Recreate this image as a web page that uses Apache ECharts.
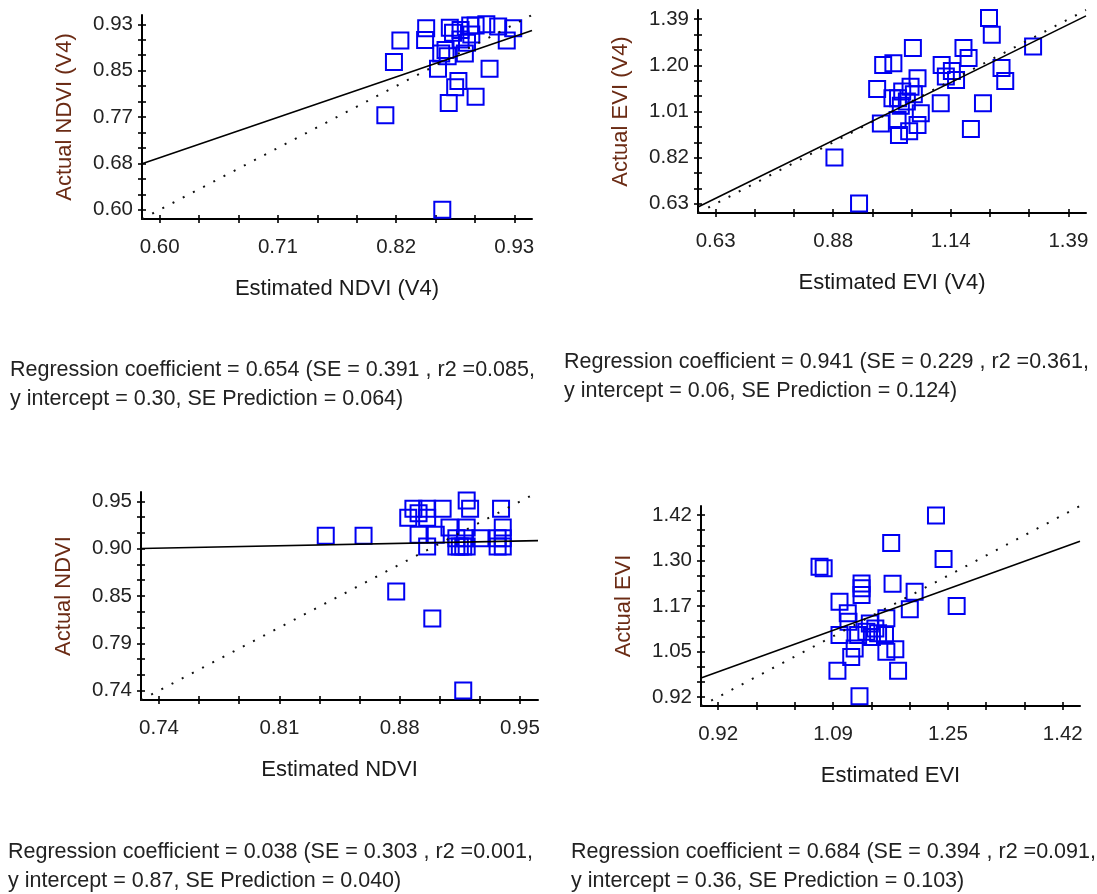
<!DOCTYPE html>
<html>
<head>
<meta charset="utf-8">
<script src="https://cdn.jsdelivr.net/npm/echarts@6/dist/echarts.min.js"></script>
<style>
  html, body { margin: 0; padding: 0; background: #fff; }
  #chart { width: 1097px; height: 894px; }
</style>
</head>
<body>
<div id="chart"></div>
<script>
// panel 1: NDVI (V4)
const p1Est = [0.824, 0.818, 0.810, 0.863, 0.848, 0.847, 0.870, 0.862, 0.859, 0.868, 0.878, 0.875, 0.869, 0.894,
  0.907, 0.884, 0.880, 0.880, 0.889, 0.894, 0.890, 0.904, 0.915, 0.929, 0.923, 0.886, 0.873, 0.866];
const p1Act = [0.901, 0.863, 0.768, 0.600, 0.923, 0.902, 0.924, 0.878, 0.851, 0.873, 0.829, 0.818, 0.790, 0.801,
  0.851, 0.878, 0.903, 0.920, 0.928, 0.928, 0.912, 0.930, 0.926, 0.923, 0.901, 0.897, 0.915, 0.884];
const p1Range = [0.60, 0.93];
const p1XLabels = ['0.60', '0.71', '0.82', '0.93'];
const p1YLabels = ['0.60', '0.68', '0.77', '0.85', '0.93'];
const p1Fit = [0.654, 0.30];

// panel 2: EVI (V4)
const p2Est = [1.219, 1.225, 1.314, 1.055, 1.164, 1.175, 0.991, 1.013, 1.117, 1.139, 1.126, 1.148, 1.246, 1.254,
  1.065, 0.978, 1.050, 1.057, 1.023, 1.042, 1.029, 1.115, 1.206, 1.072, 0.986, 1.022, 1.065, 1.025, 1.047, 1.180,
  0.886, 0.939, 1.011, 1.032];
const p2Act = [1.395, 1.326, 1.278, 1.271, 1.271, 1.230, 1.202, 1.209, 1.202, 1.177, 1.154, 1.140, 1.189, 1.136,
  1.147, 1.103, 1.112, 1.081, 1.065, 1.051, 1.034, 1.044, 1.044, 1.003, 0.961, 0.975, 0.954, 0.913, 0.929, 0.938,
  0.821, 0.631, 1.065, 1.092];
const p2Range = [0.63, 1.39];
const p2XLabels = ['0.63', '0.88', '1.14', '1.39'];
const p2YLabels = ['0.63', '0.82', '1.01', '1.20', '1.39'];
const p2Fit = [0.941, 0.06];

// panel 3: NDVI
const p3Est = [0.837, 0.859, 0.878, 0.899, 0.917, 0.919, 0.921, 0.939, 0.888, 0.896, 0.905, 0.885, 0.896, 0.891,
  0.891, 0.901, 0.896, 0.909, 0.919, 0.940, 0.913, 0.915, 0.917, 0.919, 0.913, 0.918, 0.937, 0.940, 0.937, 0.940, 0.927];
const p3Act = [0.912, 0.912, 0.850, 0.820, 0.740, 0.951, 0.942, 0.942, 0.942, 0.942, 0.942, 0.932, 0.932, 0.937,
  0.913, 0.913, 0.900, 0.921, 0.921, 0.921, 0.900, 0.900, 0.900, 0.900, 0.909, 0.909, 0.900, 0.900, 0.909, 0.909, 0.909];
const p3Range = [0.74, 0.95];
const p3XLabels = ['0.74', '0.81', '0.88', '0.95'];
const p3YLabels = ['0.74', '0.79', '0.85', '0.90', '0.95'];
const p3Fit = [0.038, 0.87];

// panel 4: EVI
const p4Est = [1.236, 1.171, 1.247, 1.067, 1.073, 1.128, 1.128, 1.128, 1.173, 1.205, 1.198, 1.266, 1.096, 1.108,
  1.109, 1.096, 1.123, 1.140, 1.135, 1.148, 1.143, 1.164, 1.162, 1.113, 1.118, 1.164, 1.177, 1.093, 1.181, 1.125, 1.152];
const p4Act = [1.419, 1.343, 1.299, 1.278, 1.274, 1.232, 1.219, 1.200, 1.231, 1.209, 1.161, 1.170, 1.182, 1.150,
  1.127, 1.090, 1.090, 1.122, 1.099, 1.108, 1.085, 1.136, 1.090, 1.030, 1.053, 1.044, 1.051, 0.992, 0.992, 0.922, 1.095];
const p4Range = [0.92, 1.42];
const p4XLabels = ['0.92', '1.09', '1.25', '1.42'];
const p4YLabels = ['0.92', '1.05', '1.17', '1.30', '1.42'];
const p4Fit = [0.684, 0.36];

const xNames = ['Estimated NDVI (V4)', 'Estimated EVI (V4)', 'Estimated NDVI', 'Estimated EVI'];
const yNames = ['Actual NDVI (V4)', 'Actual EVI (V4)', 'Actual NDVI', 'Actual EVI'];
const notes = [
  'Regression coefficient = 0.654 (SE = 0.391 , r2 =0.085,\ny intercept = 0.30, SE Prediction = 0.064)',
  'Regression coefficient = 0.941 (SE = 0.229 , r2 =0.361,\ny intercept = 0.06, SE Prediction = 0.124)',
  'Regression coefficient = 0.038 (SE = 0.303 , r2 =0.001,\ny intercept = 0.87, SE Prediction = 0.040)',
  'Regression coefficient = 0.684 (SE = 0.394 , r2 =0.091,\ny intercept = 0.36, SE Prediction = 0.103)'
];

const panels = [
  { est: p1Est, act: p1Act, range: p1Range, xl: p1XLabels, yl: p1YLabels, fit: p1Fit },
  { est: p2Est, act: p2Act, range: p2Range, xl: p2XLabels, yl: p2YLabels, fit: p2Fit },
  { est: p3Est, act: p3Act, range: p3Range, xl: p3XLabels, yl: p3YLabels, fit: p3Fit },
  { est: p4Est, act: p4Act, range: p4Range, xl: p4XLabels, yl: p4YLabels, fit: p4Fit }
];

// plot boxes and note positions
const boxes = [
  { left: 142, top: 15, width: 390, height: 204 },
  { left: 698, top: 10, width: 388, height: 203 },
  { left: 141, top: 492, width: 397, height: 208 },
  { left: 701, top: 506, width: 379, height: 200 }
];
const noteAt = [[10, 356], [564, 348], [8, 838], [571, 838]];

const FONT = '"Liberation Sans", Arial, sans-serif';
const ink = '#000';

function steps(lo, hi, n) {
  const out = [];
  for (let i = 0; i <= n; i++) out.push(lo + (hi - lo) * i / n);
  return out;
}

const grid = [], xAxis = [], yAxis = [], series = [], graphic = [];

panels.forEach((p, i) => {
  const [lo, hi] = p.range;
  const pad = (hi - lo) * 0.05;
  const min = lo - pad, max = hi + pad;
  const xFmt = v => p.xl[Math.round((v - lo) / (hi - lo) * (p.xl.length - 1))];
  const yFmt = v => p.yl[Math.round((v - lo) / (hi - lo) * (p.yl.length - 1))];
  const xTicks = steps(lo, hi, (p.xl.length - 1) * 3);
  const yTicks = steps(lo, hi, (p.yl.length - 1) * 3);

  // main grid + overlay grid (same box) for ticks that cross the axis line
  grid.push(Object.assign({ containLabel: false, outerBoundsMode: 'none' }, boxes[i]));
  grid.push(Object.assign({ containLabel: false, outerBoundsMode: 'none' }, boxes[i]));

  xAxis.push({
    type: 'value', gridIndex: 2 * i, min, max,
    axisLine: { onZero: false, lineStyle: { color: ink, width: 2 } },
    axisTick: { show: true, length: 4, customValues: xTicks, lineStyle: { color: ink, width: 1.6 } },
    axisLabel: { customValues: steps(lo, hi, p.xl.length - 1), formatter: xFmt, color: '#222',
      fontFamily: FONT, fontSize: 20.5, margin: 18 },
    splitLine: { show: false },
    name: xNames[i], nameLocation: 'middle', nameGap: 59,
    nameTextStyle: { color: '#1a1a1a', fontFamily: FONT, fontSize: 22 }
  });
  xAxis.push({
    type: 'value', gridIndex: 2 * i + 1, min, max,
    axisLine: { show: false },
    axisTick: { show: true, inside: true, length: 4, customValues: xTicks, lineStyle: { color: ink, width: 1.6 } },
    axisLabel: { show: false }, splitLine: { show: false }
  });
  yAxis.push({
    type: 'value', gridIndex: 2 * i, min, max,
    axisLine: { onZero: false, lineStyle: { color: ink, width: 2 } },
    axisTick: { show: true, length: 4, customValues: yTicks, lineStyle: { color: ink, width: 1.6 } },
    axisLabel: { customValues: steps(lo, hi, p.yl.length - 1), formatter: yFmt, color: '#222',
      fontFamily: FONT, fontSize: 20.5, margin: 9 },
    splitLine: { show: false },
    name: yNames[i], nameLocation: 'middle', nameGap: 66,
    nameTextStyle: { color: '#6b2b14', fontFamily: FONT, fontSize: 22 }
  });
  yAxis.push({
    type: 'value', gridIndex: 2 * i + 1, min, max,
    axisLine: { show: false },
    axisTick: { show: true, inside: true, length: 4, customValues: yTicks, lineStyle: { color: ink, width: 1.6 } },
    axisLabel: { show: false }, splitLine: { show: false }
  });

  const [a, b] = p.fit;
  series.push({
    type: 'line', xAxisIndex: 2 * i, yAxisIndex: 2 * i, symbol: 'none', silent: true,
    data: [[min, min], [max, max]],
    lineStyle: { color: '#111', width: 2, type: [2, 9.5] }
  });
  series.push({
    type: 'line', xAxisIndex: 2 * i, yAxisIndex: 2 * i, symbol: 'none', silent: true,
    data: [[min, a * min + b], [max, a * max + b]],
    lineStyle: { color: ink, width: 1.6 }
  });
  series.push({
    type: 'scatter', xAxisIndex: 2 * i, yAxisIndex: 2 * i, symbol: 'rect', symbolSize: 16,
    data: p.est.map((x, k) => [x, p.act[k]]),
    itemStyle: { color: 'rgba(255,255,255,0)', borderColor: '#0000f2', borderWidth: 2, opacity: 1 }
  });

  graphic.push({
    type: 'text', left: noteAt[i][0], top: noteAt[i][1],
    style: { text: notes[i], font: '21.5px ' + FONT, fill: '#222', lineHeight: 29 }
  });
});

const chart = echarts.init(document.getElementById('chart'));
chart.setOption({
  animation: false,
  backgroundColor: '#fff',
  grid, xAxis, yAxis, series, graphic
});
</script>
</body>
</html>
